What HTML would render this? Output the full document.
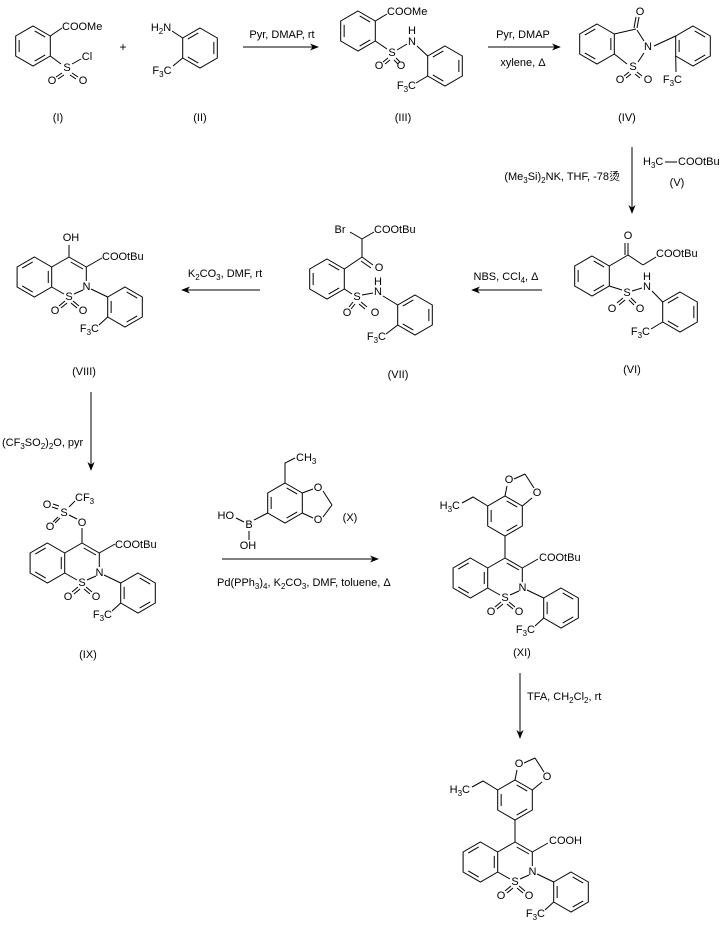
<!DOCTYPE html>
<html><head><meta charset="utf-8"><style>
body{margin:0;background:#fff}
svg{display:block}
text{font-family:"Liberation Sans","Noto Sans CJK SC",sans-serif;font-size:11px;fill:#000}
.c{text-anchor:middle;dominant-baseline:central}
.e{text-anchor:end;dominant-baseline:central}
.s{text-anchor:start;dominant-baseline:central}
line,path,polyline{stroke:#000;stroke-width:1;fill:none}
path.ahp{fill:#000;stroke:none}
</style></head><body>
<svg width="723" height="927" viewBox="0 0 723 927" xmlns="http://www.w3.org/2000/svg">
<defs>
<g id="hx">
<path d="M0,-20 L17.3,-10 L17.3,10 L0,20 L-17.3,10 L-17.3,-10Z"/>
<line x1="1.66" y1="-15.04" x2="12.2" y2="-8.96"/>
<line x1="12.2" y1="8.96" x2="1.66" y2="15.04"/>
<line x1="-13.86" y1="6.08" x2="-13.86" y2="-6.08"/>
</g>
<g id="hy">
<path d="M0,-20 L17.3,-10 L17.3,10 L0,20 L-17.3,10 L-17.3,-10Z"/>
<line x1="13.86" y1="-6.08" x2="13.86" y2="6.08"/>
<line x1="-1.66" y1="15.04" x2="-12.2" y2="8.96"/>
<line x1="-12.2" y1="-8.96" x2="-1.66" y2="-15.04"/>
</g>
<g id="core">
<use href="#hy" x="-34.6" y="0"/>
<line x1="-17.3" y1="-10" x2="0" y2="-20"/>
<line x1="0" y1="-20" x2="17.3" y2="-10"/>
<line x1="1.7" y1="-15" x2="14" y2="-8"/>
<line x1="17.3" y1="-10" x2="17.3" y2="4"/>
<line x1="14" y1="13" x2="5" y2="17"/>
<line x1="-5" y1="17" x2="-17.3" y2="10"/>
<line x1="-4" y1="24" x2="-10" y2="29"/><line x1="-2" y1="26" x2="-8" y2="31"/>
<line x1="4" y1="24" x2="10" y2="29"/><line x1="2" y1="26" x2="8" y2="31"/>
<line x1="22" y1="12" x2="38.7" y2="20"/>
<use href="#hx" x="56" y="30"/>
<line x1="38.7" y1="40" x2="30" y2="48"/>
<line x1="17.3" y1="-10" x2="33" y2="-19"/>
<text class="c" x="17.5" y="10">N</text>
<text class="c" x="0" y="20">S</text>
<text class="c" x="-14" y="34">O</text>
<text class="c" x="14" y="34">O</text>
<text class="e" x="30" y="52">F<tspan font-size="8" dy="3">3</tspan><tspan dy="-3">C</tspan></text>
</g>
<g id="aryl">
<use href="#hx" x="0" y="-62"/>
<line x1="0" y1="-42" x2="0" y2="-20"/>
<line x1="0" y1="-82" x2="2" y2="-92"/>
<line x1="17.3" y1="-72" x2="27" y2="-80"/>
<line x1="9" y1="-99" x2="20" y2="-104"/>
<line x1="20" y1="-104" x2="29" y2="-90"/>
<text class="c" x="4" y="-98">O</text>
<text class="c" x="32" y="-85">O</text>
<polyline points="-17.3,-72 -32,-81 -43,-75"/>
<text class="e" x="-45" y="-72">H<tspan font-size="8" dy="3">3</tspan><tspan dy="-3">C</tspan></text>
</g>
<marker id="ah" viewBox="0 0 10 10" refX="9" refY="5" markerWidth="9" markerHeight="9" orient="auto" markerUnits="userSpaceOnUse"><path class="ahp" d="M0,1 L10,5 L0,9 L3,5Z"/></marker>
</defs>

<!-- (I) -->
<use href="#hx" x="33" y="46"/>
<line x1="50.3" y1="36" x2="62" y2="28"/>
<text class="s" x="62" y="27">COOMe</text>
<line x1="50.3" y1="56" x2="61" y2="64"/>
<text class="c" x="67" y="68">S</text>
<line x1="72" y1="64" x2="81" y2="59"/>
<text class="c" x="87" y="57">Cl</text>
<line x1="62" y1="73" x2="56" y2="77"/><line x1="64" y1="75" x2="58" y2="79"/>
<line x1="72" y1="73" x2="78" y2="77"/><line x1="70" y1="75" x2="76" y2="79"/>
<text class="c" x="52" y="81">O</text><text class="c" x="83" y="81">O</text>
<text class="c" x="58" y="118">(I)</text>
<text class="c" x="123" y="47" style="font-size:12px">+</text>
<!-- (II) -->
<use href="#hy" x="200" y="48"/>
<text class="c" x="161" y="28">H<tspan font-size="8" dy="3">2</tspan><tspan dy="-3">N</tspan></text>
<line x1="172" y1="31" x2="182.7" y2="38"/>
<text class="c" x="162" y="71">F<tspan font-size="8" dy="3">3</tspan><tspan dy="-3">C</tspan></text>
<line x1="173" y1="66" x2="182.7" y2="58"/>
<text class="c" x="200" y="118">(II)</text>

<line x1="243" y1="47" x2="318" y2="47" marker-end="url(#ah)"/>
<text class="c" x="282" y="35">Pyr, DMAP, rt</text>

<!-- (III) -->
<use href="#hx" x="358" y="31"/>
<line x1="375.3" y1="21" x2="387" y2="14"/>
<text class="s" x="387" y="12">COOMe</text>
<line x1="375.3" y1="41" x2="387" y2="49"/>
<text class="c" x="392" y="53">S</text>
<line x1="397" y1="50" x2="407" y2="44"/>
<text class="c" x="412" y="42">N</text><text class="c" x="412" y="31">H</text>
<line x1="388" y1="58" x2="383" y2="62"/><line x1="390" y1="60" x2="385" y2="64"/>
<line x1="396" y1="58" x2="400" y2="62"/><line x1="394" y1="60" x2="398" y2="64"/>
<text class="c" x="379" y="66">O</text><text class="c" x="401" y="66">O</text>
<line x1="417" y1="46" x2="427.7" y2="56"/>
<use href="#hy" x="445" y="66"/>
<line x1="427.7" y1="76" x2="416" y2="83"/>
<text class="e" x="416" y="86">F<tspan font-size="8" dy="3">3</tspan><tspan dy="-3">C</tspan></text>
<text class="c" x="403" y="118">(III)</text>

<line x1="488" y1="47" x2="560" y2="47" marker-end="url(#ah)"/>
<text class="c" x="523" y="35">Pyr, DMAP</text>
<text class="c" x="523" y="63">xylene, Δ</text>

<!-- (IV) -->
<use href="#hy" x="597" y="44"/>
<line x1="614.3" y1="34" x2="636" y2="29"/>
<line x1="637" y1="28" x2="639" y2="17"/><line x1="634" y1="28" x2="636" y2="17"/>
<text class="c" x="640" y="12">O</text>
<line x1="637" y1="30" x2="644" y2="41"/>
<text class="c" x="648" y="47">N</text>
<line x1="644" y1="53" x2="638" y2="62"/>
<text class="c" x="633" y="67">S</text>
<line x1="614.3" y1="54" x2="627" y2="64"/>
<line x1="629" y1="72" x2="624" y2="76"/><line x1="631" y1="74" x2="626" y2="78"/>
<line x1="637" y1="72" x2="642" y2="76"/><line x1="635" y1="74" x2="640" y2="78"/>
<text class="c" x="620" y="80">O</text><text class="c" x="648" y="80">O</text>
<line x1="654" y1="46" x2="675.7" y2="36"/>
<use href="#hx" x="693" y="46"/>
<line x1="675.7" y1="56" x2="676" y2="72"/>
<text class="e" x="682" y="80">F<tspan font-size="8" dy="3">3</tspan><tspan dy="-3">C</tspan></text>
<text class="c" x="627" y="118">(IV)</text>

<line x1="632" y1="147" x2="632" y2="213" marker-end="url(#ah)"/>
<text class="s" x="643" y="162">H<tspan font-size="8" dy="3">3</tspan><tspan dy="-3">C</tspan></text>
<line x1="665" y1="162" x2="677" y2="162"/>
<text class="s" x="678" y="162">COOtBu</text>
<text class="c" x="677" y="183">(V)</text>
<text class="e" x="620" y="177">(Me<tspan font-size="8" dy="3">3</tspan><tspan dy="-3">Si)</tspan><tspan font-size="8" dy="3">2</tspan><tspan dy="-3">NK, THF, -78烫</tspan></text>

<!-- (VI) -->
<use href="#hx" x="592" y="276"/>
<line x1="609.3" y1="266" x2="628" y2="255"/>
<line x1="628" y1="255" x2="628" y2="243"/><line x1="625" y1="255" x2="625" y2="243"/>
<text class="c" x="628" y="236">O</text>
<line x1="628" y1="255" x2="643" y2="265"/><line x1="643" y1="265" x2="656" y2="257"/>
<text class="s" x="656" y="254">COOtBu</text>
<line x1="609.3" y1="286" x2="622" y2="290"/>
<text class="c" x="627" y="293">S</text>
<line x1="632" y1="291" x2="642" y2="288"/>
<text class="c" x="647" y="287">N</text><text class="c" x="647" y="277">H</text>
<line x1="623" y1="298" x2="617" y2="303"/><line x1="625" y1="300" x2="619" y2="305"/>
<line x1="631" y1="298" x2="636" y2="303"/><line x1="629" y1="300" x2="634" y2="305"/>
<text class="c" x="612" y="309">O</text><text class="c" x="640" y="309">O</text>
<line x1="652" y1="291" x2="662.7" y2="302"/>
<use href="#hy" x="680" y="312"/>
<line x1="662.7" y1="322" x2="651" y2="329"/>
<text class="e" x="650" y="332">F<tspan font-size="8" dy="3">3</tspan><tspan dy="-3">C</tspan></text>
<text class="c" x="632" y="370">(VI)</text>

<line x1="542" y1="290" x2="472" y2="290" marker-end="url(#ah)"/>
<text class="c" x="506" y="277">NBS, CCl<tspan font-size="8" dy="3">4</tspan><tspan dy="-3">, Δ</tspan></text>

<!-- (VII) -->
<use href="#hx" x="327" y="279"/>
<line x1="344.3" y1="269" x2="362" y2="257"/>
<line x1="362" y1="257" x2="373" y2="265"/><line x1="361" y1="261" x2="371" y2="268"/>
<text class="c" x="379" y="268">O</text>
<line x1="362" y1="257" x2="362" y2="239"/>
<line x1="362" y1="239" x2="350" y2="232"/><line x1="362" y1="239" x2="374" y2="232"/>
<text class="c" x="340" y="230">Br</text>
<text class="s" x="374" y="230">COOtBu</text>
<line x1="344.3" y1="289" x2="352" y2="294"/>
<text class="c" x="357" y="297">S</text>
<line x1="362" y1="295" x2="373" y2="293"/>
<text class="c" x="378" y="292">N</text><text class="c" x="378" y="282">H</text>
<line x1="353" y1="302" x2="349" y2="307"/><line x1="355" y1="304" x2="351" y2="309"/>
<line x1="361" y1="302" x2="367" y2="307"/><line x1="359" y1="304" x2="365" y2="309"/>
<text class="c" x="347" y="313">O</text><text class="c" x="375" y="313">O</text>
<line x1="383" y1="296" x2="397.7" y2="305"/>
<use href="#hy" x="415" y="315"/>
<line x1="397.7" y1="325" x2="386" y2="334"/>
<text class="e" x="386" y="337">F<tspan font-size="8" dy="3">3</tspan><tspan dy="-3">C</tspan></text>
<text class="c" x="398" y="375">(VII)</text>

<line x1="260" y1="290" x2="182" y2="290" marker-end="url(#ah)"/>
<text class="c" x="225" y="274">K<tspan font-size="8" dy="3">2</tspan><tspan dy="-3">CO</tspan><tspan font-size="8" dy="3">3</tspan><tspan dy="-3">, DMF, rt</tspan></text>

<!-- (VIII) -->
<g transform="translate(69,277)">
<use href="#core"/>
<line x1="0" y1="-20" x2="0" y2="-32"/>
<text class="c" x="2" y="-39">OH</text>
<text class="s" x="33" y="-20">COOtBu</text>
</g>
<text class="c" x="84" y="372">(VIII)</text>

<line x1="91" y1="392" x2="91" y2="470" marker-end="url(#ah)"/>
<text class="s" x="2" y="443">(CF<tspan font-size="8" dy="3">3</tspan><tspan dy="-3">SO</tspan><tspan font-size="8" dy="3">2</tspan><tspan dy="-3">)</tspan><tspan font-size="8" dy="3">2</tspan><tspan dy="-3">O, pyr</tspan></text>

<!-- (IX) -->
<g transform="translate(82,563)">
<use href="#core"/>
<line x1="0" y1="-20" x2="0" y2="-35"/>
<text class="c" x="0" y="-40">O</text>
<line x1="-5" y1="-44" x2="-13" y2="-48"/>
<text class="c" x="-18" y="-50">S</text>
<line x1="-13" y1="-56" x2="-7" y2="-62"/>
<text class="s" x="-7" y="-65">CF<tspan font-size="8" dy="3">3</tspan></text>
<line x1="-24" y1="-54" x2="-30" y2="-56"/><line x1="-23" y1="-57" x2="-29" y2="-59"/>
<text class="c" x="-35" y="-58">O</text>
<line x1="-22" y1="-45" x2="-27" y2="-40"/><line x1="-24" y1="-46" x2="-29" y2="-41"/>
<text class="c" x="-32" y="-36">O</text>
<text class="s" x="33" y="-18">COOtBu</text>
</g>
<text class="c" x="88" y="655">(IX)</text>

<!-- (X) -->
<use href="#hx" x="285" y="503"/>
<polyline points="285,483 285,463 295,458"/>
<text class="s" x="296" y="458">CH<tspan font-size="8" dy="3">3</tspan></text>
<line x1="302.3" y1="493" x2="313" y2="489"/>
<line x1="302.3" y1="513" x2="313" y2="518"/>
<text class="c" x="318" y="488">O</text><text class="c" x="318" y="520">O</text>
<line x1="323" y1="491" x2="332" y2="505"/><line x1="332" y1="505" x2="323" y2="517"/>
<text class="c" x="350" y="518">(X)</text>
<line x1="267.7" y1="513" x2="254" y2="520"/>
<text class="c" x="249" y="525">B</text>
<line x1="244" y1="522" x2="236" y2="518"/>
<text class="e" x="234" y="516">HO</text>
<line x1="249" y1="531" x2="249" y2="540"/>
<text class="c" x="248" y="546">OH</text>

<line x1="222" y1="559" x2="378" y2="559" marker-end="url(#ah)"/>
<text class="s" x="217" y="583">Pd(PPh<tspan font-size="8" dy="3">3</tspan><tspan dy="-3">)</tspan><tspan font-size="8" dy="3">4</tspan><tspan dy="-3">, K</tspan><tspan font-size="8" dy="3">2</tspan><tspan dy="-3">CO</tspan><tspan font-size="8" dy="3">3</tspan><tspan dy="-3">, DMF, toluene, Δ</tspan></text>

<!-- (XI) -->
<g transform="translate(505,578)">
<use href="#core"/><use href="#aryl"/>
<text class="s" x="34" y="-20">COOtBu</text>
</g>
<text class="c" x="522" y="653">(XI)</text>

<line x1="520" y1="673" x2="520" y2="738" marker-end="url(#ah)"/>
<text class="s" x="527" y="697">TFA, CH<tspan font-size="8" dy="3">2</tspan><tspan dy="-3">Cl</tspan><tspan font-size="8" dy="3">2</tspan><tspan dy="-3">, rt</tspan></text>

<!-- final -->
<g transform="translate(515,862)">
<use href="#core"/><use href="#aryl"/>
<text class="s" x="34" y="-21">COOH</text>
</g>
</svg>
</body></html>
